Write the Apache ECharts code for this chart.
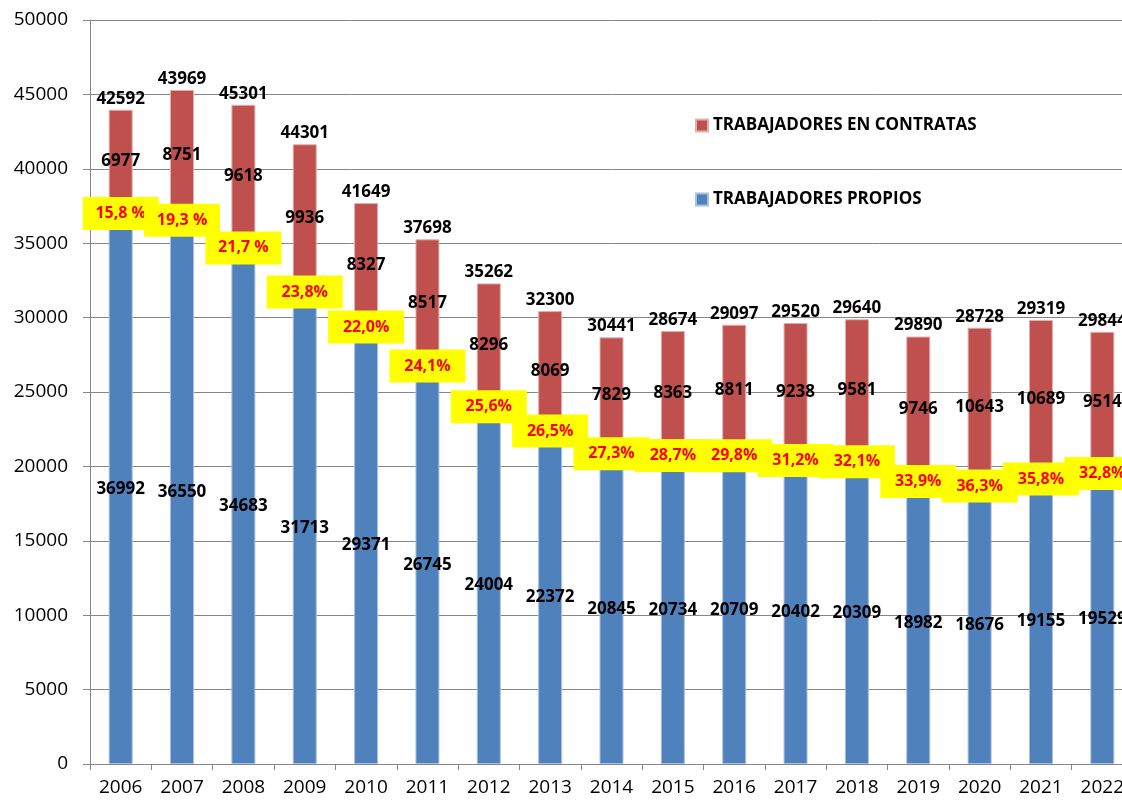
<!DOCTYPE html>
<html>
<head>
<meta charset="utf-8">
<script src="https://cdn.jsdelivr.net/npm/echarts@6/dist/echarts.min.js"></script>
<style>
  html, body { margin: 0; padding: 0; background: #fff; overflow: hidden; }
  #chart { width: 1133px; height: 802px; }
</style>
</head>
<body>
<div id="chart"></div>
<script>
const years = ['2006', '2007', '2008', '2009', '2010', '2011', '2012', '2013', '2014',
  '2015', '2016', '2017', '2018', '2019', '2020', '2021', '2022'];
const propios = [36992, 36550, 34683, 31713, 29371, 26745, 24004, 22372, 20845,
  20734, 20709, 20402, 20309, 18982, 18676, 19155, 19529];
const contratas = [6977, 8751, 9618, 9936, 8327, 8517, 8296, 8069, 7829,
  8363, 8811, 9238, 9581, 9746, 10643, 10689, 9514];
// total labels as printed on the original (they are shifted by one year)
const totalLabels = ['42592', '43969', '45301', '44301', '41649', '37698', '35262', '32300', '30441',
  '28674', '29097', '29520', '29640', '29890', '28728', '29319', '29844'];
const pctLabels = ['15,8 %', '19,3 %', '21,7 %', '23,8%', '22,0%', '24,1%', '25,6%', '26,5%', '27,3%',
  '28,7%', '29,8%', '31,2%', '32,1%', '33,9%', '36,3%', '35,8%', '32,8%'];
const yTicks = [0, 5000, 10000, 15000, 20000, 25000, 30000, 35000, 40000, 45000, 50000];

const totals = propios.map((v, i) => v + contratas[i]);

const chart = echarts.init(document.getElementById('chart'));

const valueLabel = {
  show: true,
  position: 'inside',
  color: '#000',
  fontFamily: 'Open Sans',
  fontWeight: 'bold',
  fontSize: 17
};

const option = {
  animation: false,
  backgroundColor: '#fff',
  grid: { left: 90, right: 0, top: 20, bottom: 38 },
  legend: {
    orient: 'vertical',
    left: 690,
    top: 112,
    itemGap: 57,
    itemWidth: 12,
    itemHeight: 12,
    icon: 'rect',
    data: ['TRABAJADORES EN CONTRATAS', 'TRABAJADORES PROPIOS'],
    textStyle: { fontFamily: 'Open Sans', fontWeight: 'bold', fontSize: 17, color: '#000' }
  },
  xAxis: {
    type: 'category',
    data: years,
    axisLine: { lineStyle: { color: '#868686' } },
    axisTick: { show: true, length: 6, lineStyle: { color: '#868686' } },
    axisLabel: { color: '#000', fontFamily: 'Open Sans', fontSize: 19, margin: 14 },
    splitLine: { show: false }
  },
  yAxis: {
    type: 'value',
    min: yTicks[0],
    max: yTicks[yTicks.length - 1],
    interval: 5000,
    axisLine: { show: true, lineStyle: { color: '#868686' } },
    axisTick: { show: true, length: 7, lineStyle: { color: '#868686' } },
    axisLabel: { color: '#000', fontFamily: 'Open Sans', fontSize: 19, margin: 22, formatter: v => String(v) },
    splitLine: { lineStyle: { color: '#868686', width: 1 } }
  },
  series: [
    {
      name: 'TRABAJADORES PROPIOS',
      type: 'bar',
      stack: 'a',
      data: propios,
      barWidth: 24,
      itemStyle: { color: '#4F81BD', borderColor: '#a9c0de', borderWidth: 1 },
      label: valueLabel
    },
    {
      name: 'TRABAJADORES EN CONTRATAS',
      type: 'bar',
      stack: 'a',
      data: contratas,
      barWidth: 24,
      itemStyle: { color: '#C0504D', borderColor: '#e0b0ae', borderWidth: 1 },
      label: valueLabel
    },
    {
      name: 'totales',
      type: 'scatter',
      data: totals,
      symbolSize: 1,
      itemStyle: { color: 'rgba(0,0,0,0)', opacity: 1 },
      z: 5,
      label: {
        show: true,
        position: 'top',
        distance: 2,
        color: '#000',
        opacity: 1,
        fontFamily: 'Open Sans',
        fontWeight: 'bold',
        fontSize: 17,
        formatter: p => totalLabels[p.dataIndex]
      }
    },
    {
      name: 'porcentaje',
      type: 'scatter',
      data: propios,
      symbolSize: 1,
      itemStyle: { color: 'rgba(0,0,0,0)', opacity: 1 },
      z: 6,
      label: {
        show: true,
        position: 'inside',
        color: '#FF0000',
        opacity: 1,
        backgroundColor: '#FFFF00',
        fontFamily: 'Open Sans',
        fontWeight: 'bold',
        fontSize: 16,
        width: 76,
        height: 33,
        lineHeight: 33,
        align: 'center',
        verticalAlign: 'middle',
        formatter: p => pctLabels[p.dataIndex]
      }
    }
  ]
};

chart.setOption(option);
</script>
</body>
</html>
